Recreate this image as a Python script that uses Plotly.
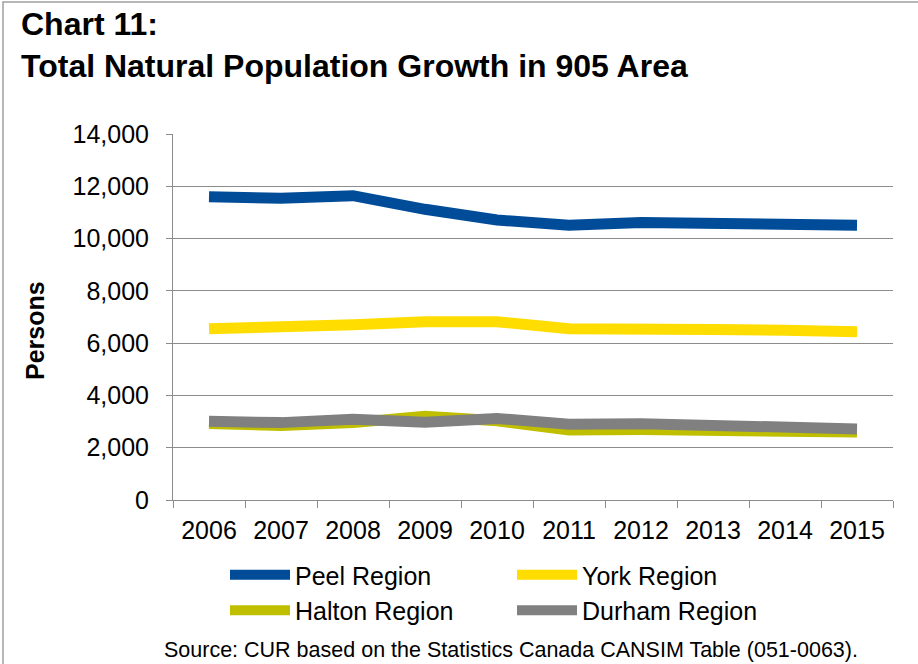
import plotly.graph_objects as go

years = ["2006", "2007", "2008", "2009", "2010", "2011", "2012", "2013", "2014", "2015"]
peel = [11600, 11540, 11640, 11120, 10710, 10510, 10610, 10580, 10550, 10510]
york = [6550, 6600, 6700, 6820, 6820, 6550, 6570, 6520, 6490, 6440]
halton = [2930, 2850, 2960, 3200, 3030, 2680, 2700, 2660, 2630, 2600]
durham = [3010, 2960, 3090, 2970, 3120, 2900, 2920, 2870, 2800, 2720]

series = [
    ("Peel Region", peel, "#004C99"),
    ("York Region", york, "#FFDD00"),
    ("Halton Region", halton, "#BFBF00"),
    ("Durham Region", durham, "#808080"),
]

fig = go.Figure()
for name, vals, col in series:
    fig.add_trace(go.Scatter(x=years, y=vals, name=name, mode="lines",
                             line=dict(color=col, width=11)))

W, H = 918, 664
L, R, T, B = 173, 893, 134, 500
AX = "#8C8C8C"
fig.update_layout(
    width=W, height=H,
    margin=dict(l=L, r=W - R, t=T, b=H - B, autoexpand=False),
    paper_bgcolor="white", plot_bgcolor="white",
    font=dict(family="Liberation Sans, Arial", color="black", size=25),
    showlegend=True,
    legend=dict(orientation="h", xref="container", yref="container",
                x=225 / W, y=1 - 552 / H, xanchor="left", yanchor="top",
                entrywidth=212, entrywidthmode="pixels", font=dict(size=25),
                tracegroupgap=0, itemwidth=60, bgcolor="rgba(0,0,0,0)"),
    xaxis=dict(showgrid=False, showline=True, linecolor=AX, linewidth=1,
               ticks="outside", tickson="boundaries", ticklen=7, tickcolor=AX,
               ticklabelstandoff=8,
               range=[-0.5, 9.5], tickfont=dict(size=25), fixedrange=True),
    yaxis=dict(range=[0, 14000], dtick=2000, tickformat=",d", showgrid=True,
               gridcolor=AX, gridwidth=1, showline=True, linecolor=AX,
               ticks="outside", ticklen=6, tickcolor=AX, zeroline=False,
               ticklabelstandoff=12,
               tickfont=dict(size=25), fixedrange=True),
)

def px_to_paper_x(px):
    return (px - L) / (R - L)

def px_to_paper_y(py):
    return (B - py) / (B - T)

fig.add_annotation(text="<b>Persons</b>", textangle=-90,
                   xref="paper", yref="paper", x=px_to_paper_x(35), y=px_to_paper_y(331),
                   xanchor="center", yanchor="middle", showarrow=False,
                   font=dict(size=25))
fig.add_annotation(text="<b>Chart 11:<br>Total Natural Population Growth in 905 Area</b>",
                   xref="paper", yref="paper", x=px_to_paper_x(19), y=px_to_paper_y(4),
                   xanchor="left", yanchor="top", showarrow=False, align="left",
                   font=dict(size=32, family="Liberation Sans, Arial"))
fig.add_annotation(text="Source: CUR based on the Statistics Canada CANSIM Table (051-0063).",
                   xref="paper", yref="paper", x=px_to_paper_x(511), y=px_to_paper_y(650),
                   xanchor="center", yanchor="middle", showarrow=False,
                   font=dict(size=21.5))
fig.add_shape(type="rect", xref="paper", yref="paper",
              x0=px_to_paper_x(3), x1=px_to_paper_x(930),
              y0=px_to_paper_y(2), y1=px_to_paper_y(680),
              line=dict(color="#A0A0A0", width=1.5), layer="below")

fig.write_html("out.html")
